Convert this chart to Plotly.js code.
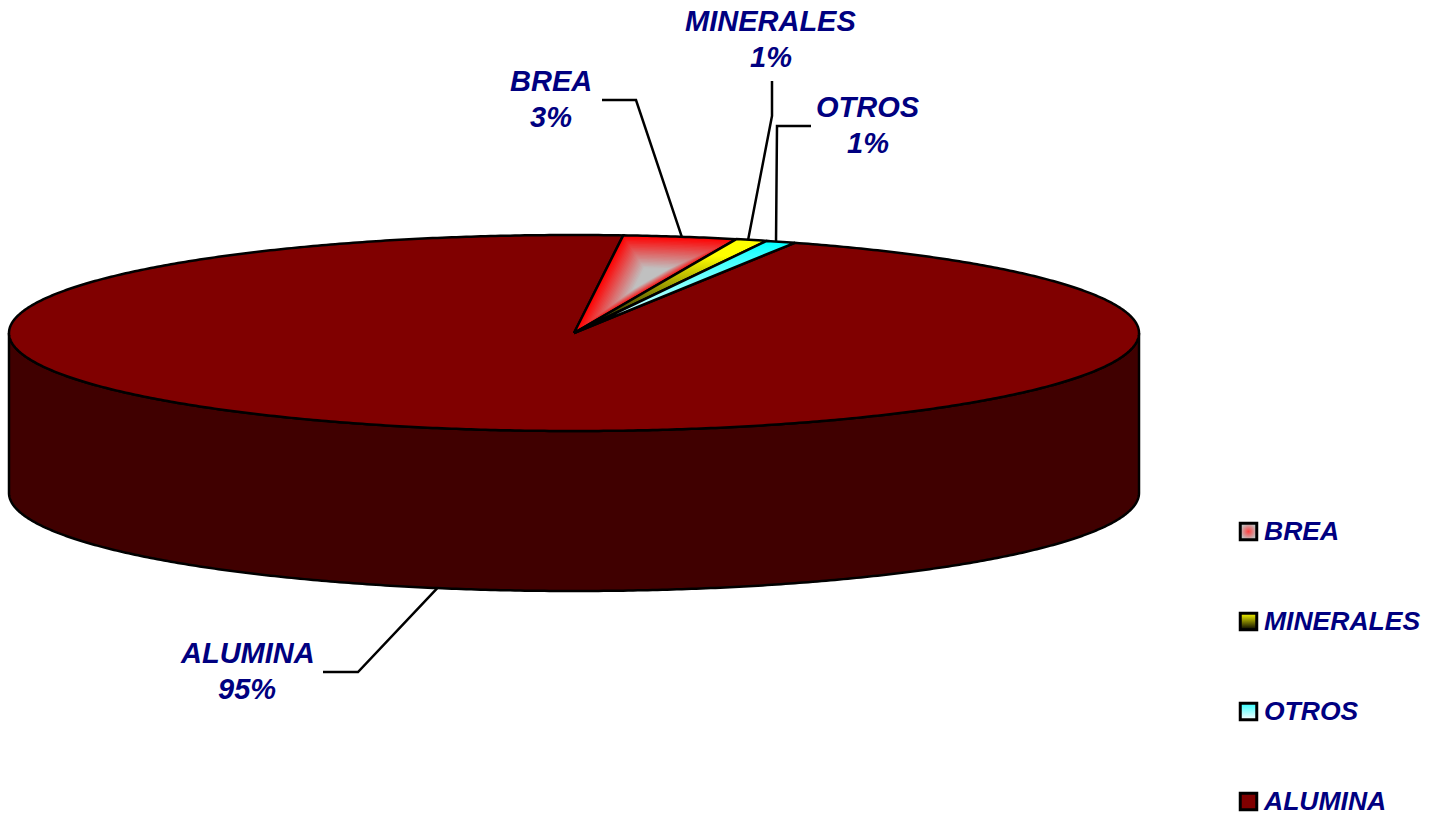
<!DOCTYPE html>
<html>
<head>
<meta charset="utf-8">
<script src="https://cdn.plot.ly/plotly-3.0.1.min.js"></script>
<style>html,body{margin:0;padding:0;background:#fff;overflow:hidden}#chart{width:1432px;height:822px}</style>
</head>
<body>
<div id="chart"></div>
<script>
// Data (share of the whole, percent)
const categories = ['BREA', 'MINERALES', 'OTROS', 'ALUMINA'];
const shares = [3.25, 0.9, 0.85, 95.0];

// Styles and layout
const firstSliceAngle = 5;
const pie = {cx: 574, cy: 333, rx: 565, ry: 98, depth: 160};
const navy = '#000080';
const labelFont = {family: 'Liberation Sans, Arial, sans-serif', size: 29, color: navy};
const legendFont = {family: 'Liberation Sans, Arial, sans-serif', size: 26.5, color: navy};
const labelAnchors = [[551, 99], [770.5, 39], [868, 125], [247, 671]];
const labelLineGap = 18;
const leaderMids = [[[602, 100], [636, 100]], [[772, 81], [772, 116]], [[811, 126], [777, 126]], [[323, 672], [358, 672]]];
const leaderAngles = [11, 17.95, 20.95, 194];
const legendX = 1248.5, legendTextX = 1264, legendY = [531.5, 621.5, 711.5, 801.5], legendTextDy = 1.5;

function pt(deg, dy) {
  const t = deg * Math.PI / 180;
  return [pie.cx + pie.rx * Math.sin(t), pie.cy + (dy || 0) - pie.ry * Math.cos(t)];
}
function arc(a, b, dy) {
  const out = [], n = Math.max(2, Math.ceil(Math.abs(b - a) * 2));
  for (let i = 0; i <= n; i++) out.push(pt(a + (b - a) * i / n, dy));
  return out;
}
const trace = (pts, extra) => Object.assign({
  x: pts.map(p => p[0]), y: pts.map(p => p[1]), type: 'scatter', mode: 'lines',
  hoverinfo: 'skip', showlegend: false, line: {width: 0, simplify: false}
}, extra);
const outline = {color: '#000', width: 2.5, simplify: false};

// Slice angles from the shares
const total = shares.reduce((a, b) => a + b, 0);
const bounds = [firstSliceAngle];
shares.forEach(s => bounds.push(bounds[bounds.length - 1] + s / total * 360));
const wedge = i => [[pie.cx, pie.cy], ...arc(bounds[i], bounds[i + 1]), [pie.cx, pie.cy]];

const traces = [];
// Side wall
traces.push(trace([...arc(90, 270, pie.depth), ...arc(270, 90)].concat([pt(90, pie.depth)]),
  {fill: 'toself', fillcolor: '#400000', line: outline}));
// ALUMINA
traces.push(trace(wedge(3), {fill: 'toself', fillcolor: '#800000', line: outline}));
// BREA: rectangular-path gradient, red edges to grey focus
const brea = wedge(0);
const focus = [650, 277];
const steps = 30;
for (let k = 0; k < steps; k++) {
  const f = 1 - k / steps, u = Math.min(1, (k / (steps - 1)) * 1.25);
  const c = [255 - 63 * u, 192 * u, 192 * u].map(Math.round);
  traces.push(trace(brea.map(p => [focus[0] + (p[0] - focus[0]) * f, focus[1] + (p[1] - focus[1]) * f]),
    {fill: 'toself', fillcolor: `rgb(${c})`}));
}
traces.push(trace(brea, {line: outline}));
// MINERALES, OTROS
traces.push(trace(wedge(1), {fill: 'toself', line: outline,
  fillgradient: {type: 'vertical', colorscale: [[0, '#000000'], [0.82, '#ffff00'], [1, '#ffff00']]}}));
traces.push(trace(wedge(2), {fill: 'toself', line: outline,
  fillgradient: {type: 'vertical', colorscale: [[0, '#ffffff'], [0.85, '#33ffff'], [1, '#00ffff']]}}));
// Leader lines
const leaderLine = {color: '#000', width: 2.5, simplify: false};
categories.forEach((c, i) => {
  const dy = i === 3 ? pie.depth : 0;
  traces.push(trace([...leaderMids[i], pt(leaderAngles[i], dy)], {line: leaderLine}));
});
// Legend swatches
const swatch = [
  {color: '#c0c0c0', gradient: {type: 'radial', color: '#ff4040'}},
  {color: '#ffff00', gradient: {type: 'vertical', color: '#000000'}},
  {color: '#33ffff', gradient: {type: 'vertical', color: '#ffffff'}},
  {color: '#800000'}
];
categories.forEach((c, i) => {
  traces.push({x: [legendX], y: [legendY[i]], type: 'scatter', mode: 'markers', hoverinfo: 'skip', showlegend: false,
    marker: Object.assign({symbol: 'square', size: 16.5, line: {color: '#000', width: 3}}, swatch[i])});
});
// Legend text
traces.push({x: categories.map(() => legendTextX), y: legendY.map(v => v + legendTextDy), text: categories, type: 'scatter', mode: 'text',
  textposition: 'middle right', hoverinfo: 'skip', showlegend: false,
  textfont: Object.assign({weight: 'bold', style: 'italic'}, legendFont)});

// Data labels: name line and percent line
const annotations = [];
categories.forEach((c, i) => {
  [[c, -labelLineGap], [`${Math.round(shares[i])}%`, labelLineGap]].forEach(([txt, off]) => {
    annotations.push({
      x: labelAnchors[i][0], y: labelAnchors[i][1] + off, xref: 'x', yref: 'y', showarrow: false,
      text: `<b><i>${txt}</i></b>`, font: labelFont, align: 'center', xanchor: 'center', yanchor: 'middle'
    });
  });
});

const axis = {visible: false, fixedrange: true, showgrid: false, zeroline: false};
Plotly.newPlot('chart', traces, {
  width: 1432, height: 822, margin: {l: 0, r: 0, t: 0, b: 0},
  paper_bgcolor: '#fff', plot_bgcolor: '#fff', showlegend: false,
  xaxis: Object.assign({range: [0, 1432]}, axis),
  yaxis: Object.assign({range: [822, 0]}, axis),
  annotations
}, {displayModeBar: false, staticPlot: true});
</script>
</body>
</html>
